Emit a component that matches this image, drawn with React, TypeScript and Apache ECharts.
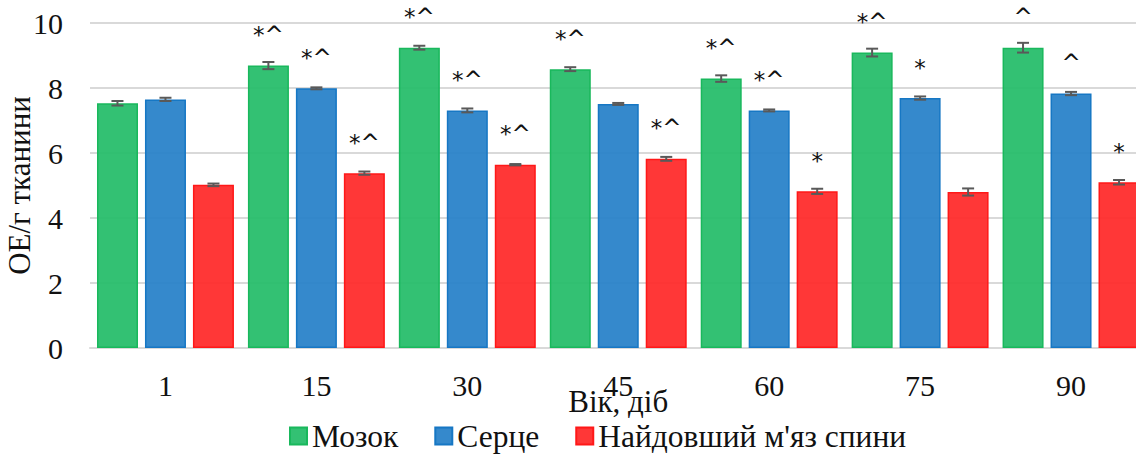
import React, { useEffect, useRef } from "react";
import * as echarts from "echarts";

const categories = ["1", "15", "30", "45", "60", "75", "90"];
const seriesNames = ["Мозок", "Серце", "Найдовший м'яз спини"];
const brainValues = [7.53, 8.69, 9.24, 8.58, 8.29, 9.09, 9.24];
const heartValues = [7.65, 7.99, 7.31, 7.51, 7.31, 7.69, 7.83];
const muscleValues = [5.02, 5.38, 5.64, 5.82, 4.82, 4.8, 5.1];
const brainErrors = [0.07, 0.11, 0.06, 0.06, 0.1, 0.12, 0.15];
const heartErrors = [0.05, 0.03, 0.06, 0.03, 0.03, 0.05, 0.05];
const muscleErrors = [0.04, 0.05, 0.02, 0.06, 0.08, 0.11, 0.07];
const brainMarks = ["", "*^", "*^", "*^", "*^", "*^", "^"];
const heartMarks = ["", "*^", "*^", "", "*^", "*", "^"];
const muscleMarks = ["", "*^", "*^", "*^", "*", "", "*"];
const yTicks = [0, 2, 4, 6, 8, 10];

const fills = ["rgba(40,190,108,0.95)", "rgba(38,128,200,0.93)", "rgba(255,40,40,0.93)"];
const borders = ["#19b85c", "#1677c4", "#ff1818"];

const BAR_W = 41;
const BAR_GAP = 7;

export default function App() {
  const ref = useRef<HTMLDivElement>(null);
  useEffect(() => {
    document.body.style.margin = "0";
    if (!ref.current) return;
    const chart = echarts.init(ref.current, null, { renderer: "svg" });
    const values = [brainValues, heartValues, muscleValues];
    const errors = [brainErrors, heartErrors, muscleErrors];
    const marks = [brainMarks, heartMarks, muscleMarks];
    const serif = "'Liberation Serif', 'Times New Roman', serif";

    const barSeries = values.map((vals, k) => ({
      type: "bar",
      name: seriesNames[k],
      data: vals,
      barWidth: BAR_W,
      barGap: Math.round((BAR_GAP / BAR_W) * 100) + "%",
      itemStyle: { color: fills[k], borderColor: borders[k], borderWidth: 1.5 },
      label: {
        show: true,
        position: "top",
        distance: 19,
        formatter: (p: any) => marks[k][p.dataIndex],
        fontFamily: "'DejaVu Sans', sans-serif",
        fontSize: 23,
        color: "#111",
      },
      z: 2,
    }));

    const errSeries = values.map((vals, k) => ({
      type: "custom",
      name: "err" + k,
      data: vals.map((v, i) => [i, v, errors[k][i]]),
      encode: { x: 0, y: 1 },
      z: 5,
      silent: true,
      renderItem: (params: any, api: any) => {
        const i = api.value(0);
        const v = api.value(1);
        const e = api.value(2);
        const top = api.coord([i, v + e]);
        const bot = api.coord([i, v - e]);
        const x = top[0] + (k - 1) * (BAR_W + BAR_GAP);
        const cap = 6;
        const style = { stroke: "#595959", lineWidth: 2 };
        return {
          type: "group",
          children: [
            { type: "line", shape: { x1: x, y1: top[1], x2: x, y2: bot[1] }, style },
            { type: "line", shape: { x1: x - cap, y1: top[1], x2: x + cap, y2: top[1] }, style },
            { type: "line", shape: { x1: x - cap, y1: bot[1], x2: x + cap, y2: bot[1] }, style },
          ],
        };
      },
    }));

    chart.setOption({
      animation: false,
      grid: {
        left: 90,
        right: -10.5,
        top: 23,
        bottom: 110,
        containLabel: false,
        outerBoundsMode: "none",
      },
      legend: {
        data: seriesNames,
        top: 420,
        left: 284,
        padding: [0, 5],
        itemWidth: 17,
        itemHeight: 17,
        itemGap: 36,
        icon: "rect",
        textStyle: { fontFamily: serif, fontSize: 31.5, color: "#111" },
      },
      xAxis: {
        type: "category",
        data: categories,
        axisTick: { show: false },
        axisLine: { lineStyle: { color: "#d9d9d9", width: 2 } },
        axisLabel: { fontFamily: serif, fontSize: 30, color: "#111", margin: 22 },
        name: "Вік, діб",
        nameLocation: "middle",
        nameGap: 38,
        nameMoveOverlap: false,
        nameTextStyle: { fontFamily: serif, fontSize: 31, color: "#111" },
      },
      yAxis: {
        type: "value",
        min: yTicks[0],
        max: yTicks[yTicks.length - 1],
        interval: 2,
        axisLine: { show: false },
        axisTick: { show: false },
        splitLine: { lineStyle: { color: "#d9d9d9", width: 2 } },
        axisLabel: { fontFamily: serif, fontSize: 30, color: "#111", margin: 27 },
        name: "ОЕ/г тканини",
        nameLocation: "middle",
        nameGap: 55,
        nameMoveOverlap: false,
        nameTextStyle: { fontFamily: serif, fontSize: 31, color: "#111" },
      },
      series: [...barSeries, ...errSeries],
    });
    return () => chart.dispose();
  }, []);
  return <div ref={ref} style={{ width: 1136, height: 458 }} />;
}
